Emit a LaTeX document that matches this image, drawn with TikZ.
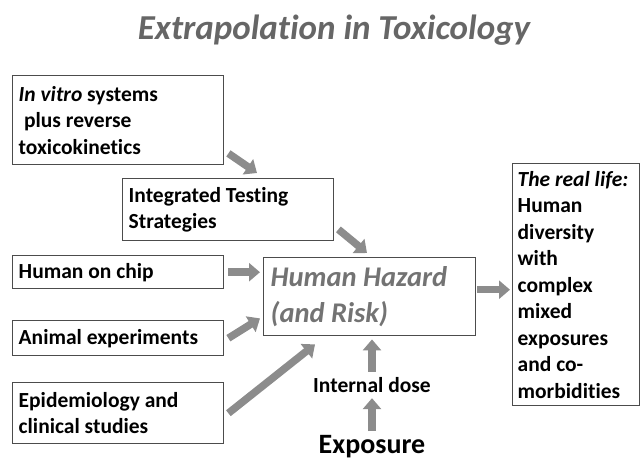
\documentclass[tikz,border=0pt]{standalone}
\usepackage{fontspec}
\setmainfont{Carlito}[Ligatures=NoCommon]
\usetikzlibrary{arrows.meta,calc}

\begin{document}
\begin{tikzpicture}[
      x=1pt, y=-1pt,
      plain box/.style ={draw=black!70, line width=1.4pt, anchor=north west, align=flush left,
        inner xsep=6pt, text width=#1, font=\bfseries\fontsize{21.5}{26.5}\selectfont},
      plain box/.default=199pt,
      fat arrow/.style ={-{Triangle[width=18pt,length=11pt]}, line width=7.5pt, draw=black!45},
      body text/.style ={font=\bfseries\fontsize{21.5}{26.5}\selectfont}]
    \useasboundingbox (0,0) rectangle (641,461);
    \node (title) at (334,30) {\bfseries\itshape\color{black!60}\fontsize{35}{40}\selectfont Extrapolation in Toxicology};
    \node[plain box, minimum height=89pt] (vitro) at (12,75) {\textit{In vitro} systems\\\hspace*{0.25em}plus reverse\\toxicokinetics};
    \node[plain box, minimum height=62pt] (its) at (122,178) {Integrated Testing\\Strategies};
    \node[plain box, minimum height=33pt] (chip) at (12,255) {Human on chip};
    \node[plain box, minimum height=35pt] (animal) at (12,320) {Animal experiments};
    \node[plain box, minimum height=61pt] (epi) at (12,382) {Epidemiology and\\clinical studies};
    \node[plain box=198pt, minimum height=78pt, inner xsep=7pt,
      font=\bfseries\itshape\fontsize{28.5}{36}\selectfont, text=black!55] (hazard) at (263,257) {Human Hazard\\(and Risk)};
    \node[plain box=117pt, minimum height=242pt, inner xsep=5pt, inner ysep=2pt] (real) at (512,163)
      {\textit{The real life:}\\Human\\diversity\\with\\complex\\mixed\\exposures\\and co-\\morbidities};
    \node[body text] (dose) at (372,385) {Internal dose};
    \node[font=\bfseries\fontsize{28}{32}\selectfont] (exposure) at (372,447) {Exposure};
    \draw[fat arrow] ($(vitro.south east)+(4,-12)$) -- ($(its.north west)+(135,-5)$);
    \draw[fat arrow] ($(its.south east)+(4,-12)$) -- ($(hazard.north west)+(104,-4)$);
    \draw[fat arrow] ($(chip.east)+(4,0)$) -- ($(hazard.west |- chip.east)+(-3,0)$);
    \draw[fat arrow] ($(animal.east)+(4,0)$) -- ($(hazard.south west)+(-3,-18)$);
    \draw[fat arrow] ($(epi.east)+(4,0)$) -- ($(hazard.south west)+(52,8)$);
    \draw[fat arrow] ($(hazard.east)+(1,-7)$) -- ($(hazard.east -| real.west)+(-2,-7)$);
    \draw[fat arrow, shorten <=2pt, shorten >=3pt] (dose.north) -- (hazard.south -| dose.north);
    \draw[fat arrow, shorten <=1pt, shorten >=2pt] (exposure.north) -- (dose.south);
    \end{tikzpicture}
\end{document}
